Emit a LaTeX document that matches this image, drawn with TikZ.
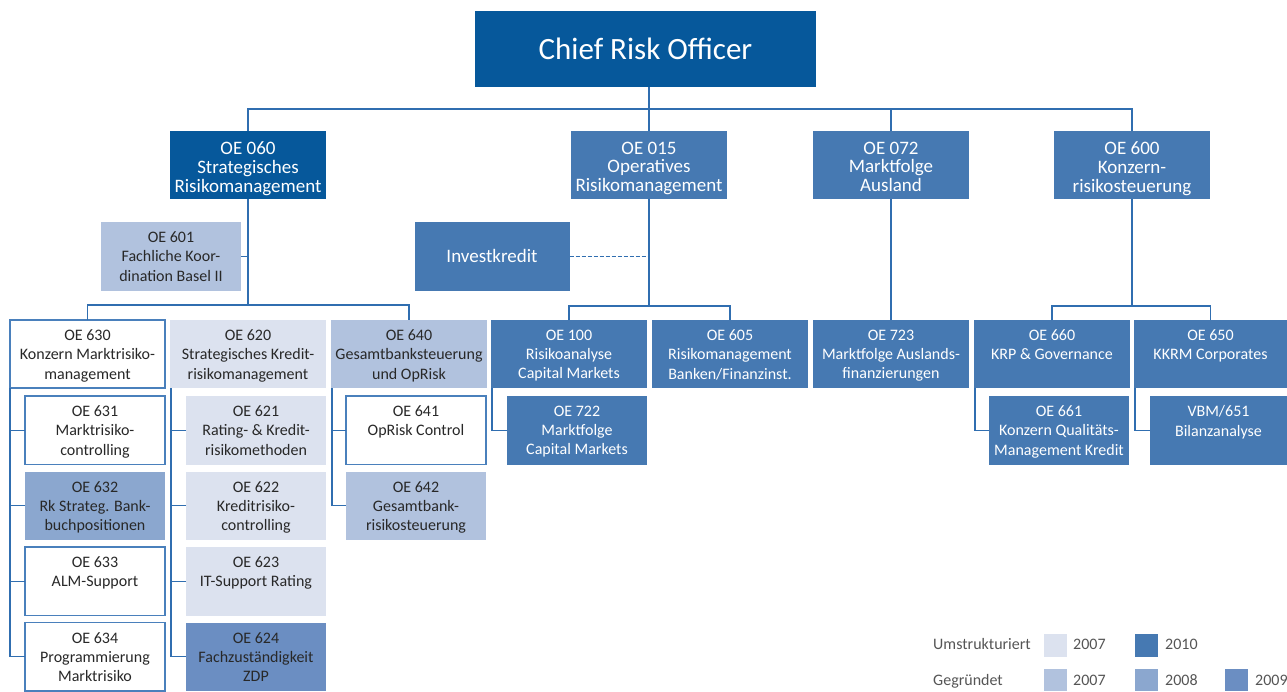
\documentclass[tikz,border=0pt]{standalone}
\usepackage{fontspec}
\setmainfont{Carlito}
\usetikzlibrary{calc}
\definecolor{cdark}{RGB}{6,88,155}
\definecolor{cmed}{RGB}{70,121,178}
\definecolor{cnine}{RGB}{107,142,194}
\definecolor{ceight}{RGB}{139,167,207}
\definecolor{cfound}{RGB}{177,194,222}
\definecolor{crestr}{RGB}{220,226,239}
\definecolor{cline}{RGB}{48,110,176}
\definecolor{cborder}{RGB}{74,128,188}
\definecolor{ctxt}{RGB}{40,40,40}
\definecolor{cleg}{RGB}{85,85,85}
\newcommand\orgbox[8]{%
  \pgfmathsetmacro\obw{#4-#2}\pgfmathsetmacro\obh{#5-#3}%
  \node[boxbase,#6,minimum width=\obw pt,minimum height=\obh pt,anchor=north west] (#1) at (#2pt,-#3pt) {};%
  \node[#7] (#1t) at (#1.north) {#8};}
\tikzset{
  boxbase/.style={rectangle,inner sep=0pt,outer sep=0pt},
  bdark/.style={fill=cdark},
  bmed/.style={fill=cmed},
  bnine/.style={fill=cnine},
  beight/.style={fill=ceight},
  bfound/.style={fill=cfound},
  brestr/.style={fill=crestr},
  bwhite/.style={fill=white,draw=cborder,line width=1.2pt},
  tsmall/.style={anchor=north,yshift=-9.5pt,align=center,inner sep=0pt,font=\fontsize{16}{19.3}\selectfont},
  tbig/.style={anchor=north,yshift=-10.5pt,align=center,inner sep=0pt,font=\fontsize{19}{18.8}\selectfont},
  tw/.style={text=white},
  td/.style={text=ctxt},
  conn/.style={draw=cline,line width=1.3pt},
  swatch/.style={rectangle,inner sep=0pt,minimum width=23pt,minimum height=22.5pt,anchor=north west},
  legtext/.style={anchor=base west,inner sep=0pt,text=cleg,font=\fontsize{16}{18}\selectfont},
}
\begin{document}
\begin{tikzpicture}
\useasboundingbox (0pt,0pt) rectangle (1287pt,-691pt);
% top
\node[boxbase,bdark,minimum width=341pt,minimum height=76pt,anchor=north west,text=white,font=\fontsize{31}{34}\selectfont] (cro) at (475pt,-11pt) {Chief Risk Officer};
% level 2
\orgbox{oe060}{170}{131}{326}{199}{bdark}{tbig,tw}{OE 060\\Strategisches\\Risikomanagement}
\orgbox{oe015}{571}{131}{727}{199}{bmed}{tbig,tw}{OE 015\\Operatives\\Risikomanagement}
\orgbox{oe072}{813}{131}{969}{199}{bmed}{tbig,tw}{OE 072\\Marktfolge\\Ausland}
\orgbox{oe600}{1054}{131}{1210}{199}{bmed}{tbig,tw}{OE 600\\Konzern-\\risikosteuerung}
% 601 and Investkredit
\orgbox{oe601}{101}{222}{241}{290.5}{bfound}{tsmall,td}{OE 601\\Fachliche Koor-\\dination Basel II}
\node[boxbase,bmed,minimum width=155pt,minimum height=68.5pt,anchor=north west,text=white,font=\fontsize{19}{20}\selectfont] (invest) at (414.5pt,-222pt) {Investkredit};
% level 3
\orgbox{oe630}{10}{320}{165}{388}{bwhite}{tsmall,td}{OE 630\\Konzern Marktrisiko-\\management}
\orgbox{oe620}{170}{320}{326}{388}{brestr}{tsmall,td}{OE 620\\Strategisches Kredit-\\risikomanagement}
\orgbox{oe640}{331}{320}{487}{388}{bfound}{tsmall,td}{OE 640\\Gesamtbanksteuerung\\und OpRisk}
\orgbox{oe100}{491}{320}{647}{388}{bmed}{tsmall,tw}{OE 100\\Risikoanalyse\\Capital Markets}
\orgbox{oe605}{652}{320}{808}{388}{bmed}{tsmall,tw}{OE 605\\Risikomanagement\\Banken/Finanzinst.}
\orgbox{oe723}{813}{320}{969}{388}{bmed}{tsmall,tw}{OE 723\\Marktfolge Auslands-\\finanzierungen}
\orgbox{oe660}{974}{320}{1130}{388}{bmed}{tsmall,tw}{OE 660\\KRP \& Governance}
\orgbox{oe650}{1134}{320}{1287}{388}{bmed}{tsmall,tw}{OE 650\\KKRM Corporates}
% level 4
\orgbox{oe631}{25}{396}{165}{464.5}{bwhite}{tsmall,td}{OE 631\\Marktrisiko-\\controlling}
\orgbox{oe632}{25}{471.5}{165}{540}{beight}{tsmall,td}{OE 632\\Rk Strateg. Bank-\\buchpositionen}
\orgbox{oe633}{25}{547}{165}{615.5}{bwhite}{tsmall,td}{OE 633\\ALM-Support}
\orgbox{oe634}{25}{622.5}{165}{691}{bwhite}{tsmall,td}{OE 634\\Programmierung\\Marktrisiko}
\orgbox{oe621}{186}{396}{326}{464.5}{brestr}{tsmall,td}{OE 621\\Rating- \& Kredit-\\risikomethoden}
\orgbox{oe622}{186}{471.5}{326}{540}{brestr}{tsmall,td}{OE 622\\Kreditrisiko-\\controlling}
\orgbox{oe623}{186}{547}{326}{615.5}{brestr}{tsmall,td}{OE 623\\IT-Support Rating}
\orgbox{oe624}{186}{622.5}{326}{691}{bnine}{tsmall,td}{OE 624\\Fachzuständigkeit\\ZDP}
\orgbox{oe641}{346}{396}{486}{464.5}{bwhite}{tsmall,td}{OE 641\\OpRisk Control}
\orgbox{oe642}{346}{471.5}{486}{540}{bfound}{tsmall,td}{OE 642\\Gesamtbank-\\risikosteuerung}
\orgbox{oe722}{507}{396}{647}{464.5}{bmed}{tsmall,tw}{OE 722\\Marktfolge\\Capital Markets}
\orgbox{oe661}{989}{396}{1129}{464.5}{bmed}{tsmall,tw}{OE 661\\Konzern Qualitäts-\\Management Kredit}
\orgbox{vbm}{1150}{396}{1287}{464.5}{bmed}{tsmall,tw}{VBM/651\\Bilanzanalyse}
% connectors level 1-2
\draw[conn] (cro.south -| oe015.north) -- (oe015.north);
\draw[conn] (oe060.north) -- ++(0,22pt) -| (oe600.north);
\draw[conn] (oe072.north) -- ++(0,22pt);
% OE 060 branch
\draw[conn] (oe060.south) -- ++(0,-106pt);
\draw[conn] (oe601.east) -- (oe601.east -| oe060.south);
\draw[conn] (oe630.north) -- ++(0,15pt) -| (oe640.north);
% OE 015 branch
\draw[conn] (oe015.south) -- ++(0,-107pt);
\draw[conn,dash pattern=on 4pt off 2pt] (invest.east) -- (invest.east -| oe015.south);
\draw[conn] (oe100.north) -- ++(0,14pt) -| (oe605.north);
% OE 072 and 600
\draw[conn] (oe072.south) -- (oe723.north);
\draw[conn] (oe600.south) -- ++(0,-107pt);
\draw[conn] (oe660.north) -- ++(0,14pt) -| (oe650.north);
% column trunks
\draw[conn] (oe630.south west) -- (oe630.south west |- oe634.west) -- (oe634.west);
\draw[conn] (oe631.west) -- (oe631.west -| oe630.south west);
\draw[conn] (oe632.west) -- (oe632.west -| oe630.south west);
\draw[conn] (oe633.west) -- (oe633.west -| oe630.south west);
\draw[conn] ([xshift=1pt]oe620.south west) -- ([xshift=1pt]oe620.south west |- oe624.west) -- (oe624.west);
\draw[conn] (oe621.west) -- ([xshift=1pt]oe621.west -| oe620.south west);
\draw[conn] (oe622.west) -- ([xshift=1pt]oe622.west -| oe620.south west);
\draw[conn] (oe623.west) -- ([xshift=1pt]oe623.west -| oe620.south west);
\draw[conn] ([xshift=1pt]oe640.south west) -- ([xshift=1pt]oe640.south west |- oe642.west) -- (oe642.west);
\draw[conn] (oe641.west) -- ([xshift=1pt]oe641.west -| oe640.south west);
\draw[conn] ([xshift=1pt]oe100.south west) |- (oe722.west);
\draw[conn] ([xshift=1pt]oe660.south west) |- (oe661.west);
\draw[conn] ([xshift=1pt]oe650.south west) |- (vbm.west);
% legend
\node[legtext] (lu) at (933pt,-649pt) {Umstrukturiert};
\node[legtext] (lg) at (933pt,-685pt) {Gegründet};
\node[swatch,fill=crestr] (s1) at (1044pt,-634pt) {};
\node[legtext] (t1) at (1073pt,-649pt) {2007};
\node[swatch,fill=cmed] (s2) at (1135pt,-634pt) {};
\node[legtext] (t2) at (1165pt,-649pt) {2010};
\node[swatch,fill=cfound] (s3) at (1044pt,-668.5pt) {};
\node[legtext] (t3) at (1073pt,-685pt) {2007};
\node[swatch,fill=ceight] (s4) at (1135pt,-668.5pt) {};
\node[legtext] (t4) at (1165pt,-685pt) {2008};
\node[swatch,fill=cnine] (s5) at (1225pt,-668.5pt) {};
\node[legtext] (t5) at (1255pt,-685pt) {2009};
\end{tikzpicture}
\end{document}
